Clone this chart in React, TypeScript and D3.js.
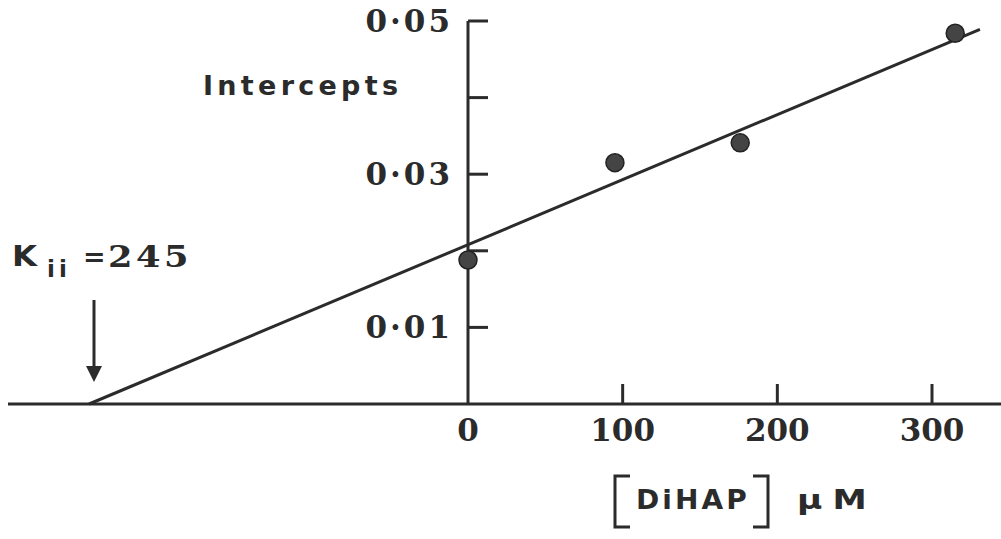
import React from "react";
import * as d3 from "d3";

// Secondary plot: intercepts vs. inhibitor concentration
const concentrations = [0, 95, 176, 315];
const intercepts = [0.0188, 0.0315, 0.0341, 0.0484];
const xTicks = [0, 100, 200, 300];
const yMajorTicks = [0.01, 0.03, 0.05];
const yMinorTicks = [0.02, 0.04];
const kii = 245;
const fitIntercept = 0.0208;
const fitEnd = 331;

const W = 1001;
const H = 539;

export default function App() {
  const x = d3.scaleLinear().domain([0, 300]).range([468, 932]);
  const y = d3.scaleLinear().domain([0, 0.05]).range([404, 21]);
  const slope = fitIntercept / kii;
  const fitPts: [number, number][] = [
    [-kii, 0],
    [fitEnd, fitIntercept + slope * fitEnd],
  ];
  const line = d3
    .line<[number, number]>()
    .x((d) => x(d[0]))
    .y((d) => y(d[1]));

  const ink = "#2b2b2b";
  const numFont = "'DejaVu Serif', serif";
  const sansFont = "'DejaVu Sans', sans-serif";
  const fmt = (v: number) => "0·" + String(Math.round(v * 100)).padStart(2, "0");

  return (
    <svg
      width={W}
      height={H}
      style={{ position: "absolute", left: 0, top: 0, background: "#fff" }}
    >
      {/* baseline (x axis) */}
      <line x1={8} x2={W} y1={y(0)} y2={y(0)} stroke={ink} strokeWidth={3} />
      {/* y axis */}
      <line x1={x(0)} x2={x(0)} y1={y(0.05)} y2={y(0)} stroke={ink} strokeWidth={3} />
      {[...yMajorTicks, ...yMinorTicks].map((t) => (
        <line key={t} x1={x(0)} x2={x(0) + 20} y1={y(t)} y2={y(t)} stroke={ink} strokeWidth={3} />
      ))}
      {yMajorTicks.map((t) => (
        <text
          key={t}
          x={x(0) - 15}
          y={y(t) + 11}
          textAnchor="end"
          fontFamily={numFont}
          fontWeight="bold"
          fontSize={31}
          letterSpacing={3}
          fill={ink}
        >
          {fmt(t)}
        </text>
      ))}
      {xTicks.map((t) => (
        <g key={t}>
          {t !== 0 && (
            <line x1={x(t)} x2={x(t)} y1={y(0)} y2={y(0) - 20} stroke={ink} strokeWidth={3} />
          )}
          <text
            x={x(t)}
            y={441}
            textAnchor="middle"
            fontFamily={numFont}
            fontWeight="bold"
            fontSize={31}
            fill={ink}
          >
            {t}
          </text>
        </g>
      ))}

      {/* fitted line */}
      <path d={line(fitPts) || ""} fill="none" stroke={ink} strokeWidth={3} />

      {/* data points */}
      {concentrations.map((c, i) => (
        <circle
          key={i}
          cx={x(c)}
          cy={y(intercepts[i])}
          r={9}
          fill="#444"
          stroke="#222"
          strokeWidth={1.5}
        />
      ))}

      {/* axis titles */}
      <text
        x={203}
        y={95}
        fontFamily={sansFont}
        fontWeight="bold"
        fontSize={27}
        textLength={195}
        lengthAdjust="spacing"
        fill={ink}
      >
        Intercepts
      </text>

      <g fill={ink} fontFamily={sansFont} fontWeight="bold">
        <path d="M630,476 H615 V527 H630" fill="none" stroke={ink} strokeWidth={3} />
        <text
          x={636}
          y={509}
          fontSize={27}
          letterSpacing={3}
          textLength={114}
          lengthAdjust="spacingAndGlyphs"
        >
          DiHAP
        </text>
        <path d="M753,476 H768 V527 H753" fill="none" stroke={ink} strokeWidth={3} />
        <text
          x={797}
          y={509}
          fontSize={27}
          letterSpacing={8}
          textLength={80}
          lengthAdjust="spacingAndGlyphs"
        >
          µM
        </text>
      </g>

      {/* inhibition constant annotation */}
      <text
        x={12}
        y={266}
        fill={ink}
        fontWeight="bold"
        fontFamily={sansFont}
        fontSize={29}
        textLength={25}
        lengthAdjust="spacingAndGlyphs"
      >
        K
      </text>
      <text
        x={47}
        y={277}
        fill={ink}
        fontWeight="bold"
        fontFamily={sansFont}
        fontSize={23}
        letterSpacing={4}
      >
        ii
      </text>
      <text x={83} y={266} fill={ink} fontWeight="bold" fontFamily={sansFont} fontSize={27}>
        =
      </text>
      <text
        x={108}
        y={267}
        fill={ink}
        fontWeight="bold"
        fontFamily={numFont}
        fontSize={30}
        letterSpacing={3}
        textLength={84}
        lengthAdjust="spacingAndGlyphs"
      >
        245
      </text>
      <line x1={94} x2={94} y1={300} y2={368} stroke={ink} strokeWidth={3} />
      <path d="M86,366 L102,366 L94,382 Z" fill={ink} />
    </svg>
  );
}
